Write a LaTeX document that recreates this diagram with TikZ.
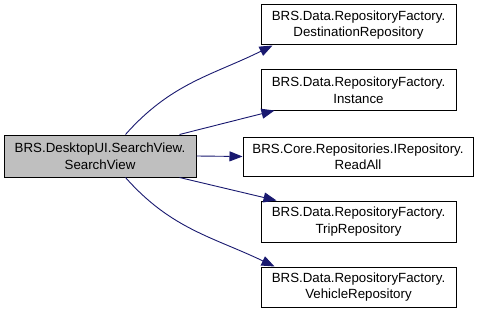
\documentclass[tikz,border=0pt]{standalone}
\usepackage{fontspec}
\setmainfont{Liberation Sans}
\usetikzlibrary{arrows.meta}
\definecolor{edgeblue}{HTML}{191970}
\definecolor{mainfill}{HTML}{BFBFBF}
\tikzset{
  fnbox/.style={draw=black, line width=1pt, fill=white, align=center, inner sep=0pt,
    text width=185pt, minimum width=195pt, minimum height=40pt,
    font=\fontsize{13.3pt}{16.5pt}\selectfont},
  mainbox/.style={fnbox, fill=mainfill, text width=186pt, minimum width=192pt, minimum height=42pt},
  call/.style={draw=edgeblue, line width=0.9pt,
    -{Triangle[length=13pt,width=10pt,fill=edgeblue]}}
}
\begin{document}
\begin{tikzpicture}[x=1pt, y=-1pt]
  \useasboundingbox[fill=white] (0,0) rectangle (479,313);

  % caller
  \node[mainbox] (main) at (100,156) {BRS.DesktopUI.SearchView.\\SearchView};

  % callees
  \node[fnbox] (dest) at (358.5,25)  {BRS.Data.RepositoryFactory.\\DestinationRepository};
  \node[fnbox] (inst) at (358.5,90)  {BRS.Data.RepositoryFactory.\\Instance};
  \node[fnbox, text width=220pt, minimum width=230pt, minimum height=39pt] (read) at (358,156.5)
        {BRS.Core.Repositories.IRepository.\\ReadAll};
  \node[fnbox, minimum height=41pt] (trip) at (358.5,221.5) {BRS.Data.RepositoryFactory.\\TripRepository};
  \node[fnbox] (veh)  at (358.5,287) {BRS.Data.RepositoryFactory.\\VehicleRepository};

  % calls
  \draw[call] ([xshift=122pt]main.north west) .. controls (171,83) and (213,75) .. ([xshift=12pt]dest.south west);
  \draw[call] ([xshift=176pt]main.north west) -- ([xshift=14pt]inst.south west);
  \draw[call] (main.east) -- (read.west);
  \draw[call] ([xshift=176pt]main.south west) -- ([xshift=16pt]trip.north west);
  \draw[call] ([xshift=122pt]main.south west) .. controls (171,229) and (213,237) .. ([xshift=14pt]veh.north west);
\end{tikzpicture}
\end{document}
